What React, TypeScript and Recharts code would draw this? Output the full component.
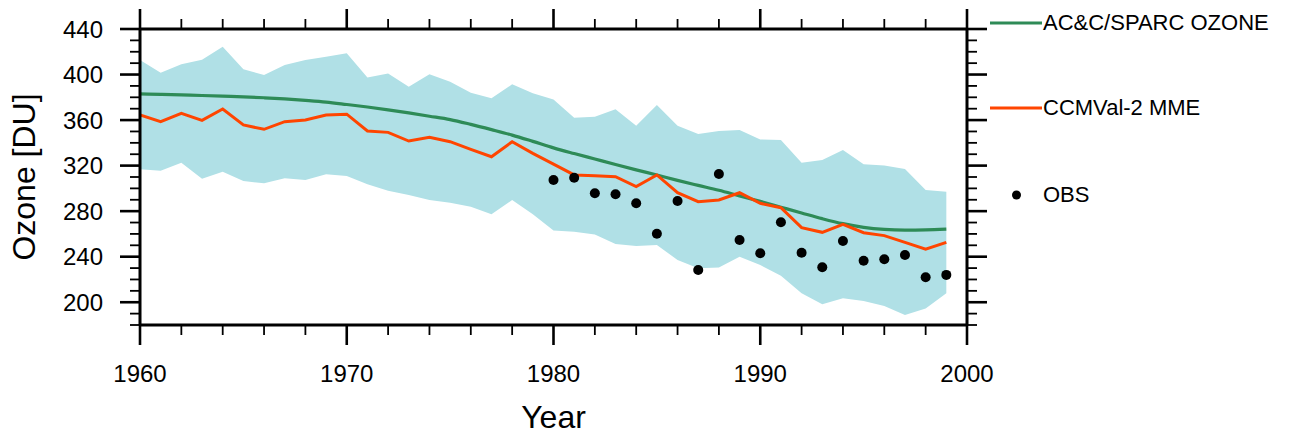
import React from 'react';
import { ComposedChart, Area, Line, Scatter, XAxis, YAxis, Legend, Label } from 'recharts';

const years = [
  1960, 1961, 1962, 1963, 1964, 1965, 1966, 1967, 1968, 1969,
  1970, 1971, 1972, 1973, 1974, 1975, 1976, 1977, 1978, 1979,
  1980, 1981, 1982, 1983, 1984, 1985, 1986, 1987, 1988, 1989,
  1990, 1991, 1992, 1993, 1994, 1995, 1996, 1997, 1998, 1999,
];

// AC&C/SPARC ozone (smooth)
const accOzone = [
  383, 382.6, 382.1, 381.6, 381, 380.4, 379.6, 378.6, 377.3, 375.8,
  373.7, 371.5, 369, 366.3, 363.4, 360.4, 356.2, 351.6, 346.8, 341.3,
  335.6, 330.6, 325.8, 321, 316.3, 311.7, 307, 302.6, 298.3, 293.4,
  288.6, 283.5, 278.4, 273.4, 269, 265.8, 264, 263.4, 263.6, 264.2,
];

// CCMVal-2 multi model mean
const mmeOzone = [
  364.5, 358.6, 365.9, 359.8, 369.7, 355.7, 351.9, 358.6, 360, 364.5,
  365.2, 350.4, 349.2, 341.6, 344.9, 341, 334.3, 327.8, 341, 330.8,
  321.3, 311.8, 311.2, 310.3, 301.5, 311.8, 296.2, 288.3, 289.8, 296.2,
  286.9, 283, 265.5, 261.4, 268.4, 261.1, 258.5, 252.6, 246.5, 252.6,
];

// model spread
const mmeUpper = [
  412.8, 401.6, 409, 413, 424.5, 404.6, 399.6, 408.4, 412.8, 415.7,
  418.6, 397.5, 401, 389.3, 400.2, 393.7, 384, 379.1, 391.4, 383.5,
  378, 362.1, 363, 369.5, 355, 373.2, 355, 347.8, 350.4, 351.3,
  343, 342.5, 322.6, 324.9, 333.7, 321.1, 320, 317, 298.6, 297.1,
];
const mmeLower = [
  316.7, 315.5, 322.6, 308.5, 314.7, 306.5, 304.5, 308.9, 307.4, 312.4,
  310.9, 303.6, 298, 294.2, 289.8, 287.4, 283.9, 277.2, 289.8, 277.2,
  263, 262, 259.6, 251.2, 249.4, 250.3, 237.1, 229.8, 230.4, 240,
  232.7, 223.3, 207.8, 198.2, 203.4, 201, 196.7, 188.8, 194.6, 207.8,
];

const obsYears = [
  1980, 1981, 1982, 1983, 1984, 1985, 1986, 1987, 1988, 1989,
  1990, 1991, 1992, 1993, 1994, 1995, 1996, 1997, 1998, 1999,
];
const obsOzone = [
  307.4, 309.4, 295.7, 294.8, 286.9, 260.2, 288.9, 228.3, 312.6, 254.7,
  243, 270.2, 243.5, 230.7, 253.8, 236.5, 237.7, 241.5, 221.9, 224,
];

const xMajor = [1960, 1970, 1980, 1990, 2000];
const xTicks = [
  1960, 1962, 1964, 1966, 1968, 1970, 1972, 1974, 1976, 1978, 1980,
  1982, 1984, 1986, 1988, 1990, 1992, 1994, 1996, 1998, 2000,
];
const yMajor = [200, 240, 280, 320, 360, 400, 440];
const yTicks = [
  180, 190, 200, 210, 220, 230, 240, 250, 260, 270, 280, 290, 300, 310,
  320, 330, 340, 350, 360, 370, 380, 390, 400, 410, 420, 430, 440,
];

const legendNames = ['AC&C/SPARC OZONE', 'CCMVal-2 MME', 'OBS'];

const FONT = '"Liberation Sans", Arial, Helvetica, sans-serif';
const GREEN = '#2e8b57';
const ORANGE = '#ff4500';
const BAND = '#b0e0e6';

const data = years.map((year, i) => ({
  year,
  acc: accOzone[i],
  mme: mmeOzone[i],
  range: [mmeLower[i], mmeUpper[i]],
}));
const obsData = obsYears.map((year, i) => ({ year, obs: obsOzone[i] }));

type Side = 'bottom' | 'top' | 'left' | 'right';

const AxisTick = (props: any) => {
  const { x, y, payload, side, major, showLabel } = props;
  const isMajor = major.includes(payload.value);
  const len = isMajor ? 20 : 10;
  const s: Side = side;
  const pos = {
    bottom: { x1: x, x2: x, y1: y, y2: y + len },
    top: { x1: x, x2: x, y1: y, y2: y - len },
    left: { x1: x, x2: x - len, y1: y, y2: y },
    right: { x1: x, x2: x + len, y1: y, y2: y },
  }[s];
  return (
    <g>
      <line {...pos} stroke="#000" strokeWidth={isMajor ? 2.6 : 1.8} />
      {showLabel && isMajor && s === 'bottom' && (
        <text x={x} y={y + 57} textAnchor="middle" fontSize={24} fontFamily={FONT} fill="#000">
          {payload.value}
        </text>
      )}
      {showLabel && isMajor && s === 'left' && (
        <text x={x - 37} y={y} textAnchor="end" dominantBaseline="central" fontSize={24} fontFamily={FONT} fill="#000">
          {payload.value}
        </text>
      )}
    </g>
  );
};

const renderLegend = () => {
  const rows = [23, 108, 195];
  return (
    <div style={{ position: 'relative', width: 299, height: 220, fontFamily: FONT }}>
      {legendNames.map((name, i) => (
        <div
          key={name}
          style={{
            position: 'absolute',
            left: 0,
            top: rows[i] - 14,
            height: 28,
            display: 'flex',
            alignItems: 'center',
            fontSize: 22,
            color: '#000',
            whiteSpace: 'nowrap',
          }}
        >
          <svg width={53} height={28} style={{ display: 'block' }}>
            {i < 2 ? (
              <line x1={0} x2={52} y1={14} y2={14} stroke={i === 0 ? GREEN : ORANGE} strokeWidth={3} />
            ) : (
              <circle cx={26.5} cy={14} r={4.5} fill="#000" />
            )}
          </svg>
          <span>{name}</span>
        </div>
      ))}
    </div>
  );
};

const ObsDot = (props: any) => <circle cx={props.cx} cy={props.cy} r={5} fill="#000" />;

const axisLine = { stroke: '#000', strokeWidth: 3 };

export default function App() {
  return (
    <div style={{ position: 'absolute', left: 0, top: 0, width: 1289, height: 437, background: '#fff', fontFamily: FONT }}>
      <ComposedChart
        width={1289}
        height={437}
        data={data}
        margin={{ top: 9, right: 302, bottom: 9, left: 20 }}
      >
        <XAxis
          dataKey="year"
          type="number"
          domain={[1960, 2000]}
          ticks={xTicks}
          interval={0}
          allowDataOverflow
          height={103}
          tickSize={0}
          tickMargin={0}
          tickLine={false}
          axisLine={axisLine}
          tick={(p: any) => <AxisTick {...p} side="bottom" major={xMajor} showLabel />}
        >
          <Label
            content={({ viewBox }: any) => (
              <text
                x={viewBox.x + viewBox.width / 2}
                y={viewBox.y + viewBox.height}
                textAnchor="middle"
                fontSize={32}
                fontFamily={FONT}
                fill="#000"
              >
                Year
              </text>
            )}
          />
        </XAxis>
        <XAxis
          xAxisId="top"
          dataKey="year"
          type="number"
          orientation="top"
          domain={[1960, 2000]}
          ticks={xTicks}
          interval={0}
          allowDataOverflow
          height={20}
          tickSize={0}
          tickMargin={0}
          tickLine={false}
          axisLine={axisLine}
          tick={(p: any) => <AxisTick {...p} side="top" major={xMajor} />}
        />
        <YAxis
          type="number"
          domain={[180, 440]}
          ticks={yTicks}
          interval={0}
          allowDataOverflow
          width={120}
          tickSize={0}
          tickMargin={0}
          tickLine={false}
          axisLine={axisLine}
          tick={(p: any) => <AxisTick {...p} side="left" major={yMajor} showLabel />}
        >
          <Label
            content={({ viewBox }: any) => {
              const cx = viewBox.x + 15;
              const cy = viewBox.y + viewBox.height / 2;
              return (
                <text
                  x={cx}
                  y={cy}
                  transform={`rotate(-90 ${cx} ${cy})`}
                  textAnchor="middle"
                  fontSize={32}
                  fontFamily={FONT}
                  fill="#000"
                >
                  Ozone [DU]
                </text>
              );
            }}
          />
        </YAxis>
        <YAxis
          yAxisId="right"
          orientation="right"
          type="number"
          domain={[180, 440]}
          ticks={yTicks}
          interval={0}
          allowDataOverflow
          width={20}
          tickSize={0}
          tickMargin={0}
          tickLine={false}
          axisLine={axisLine}
          tick={(p: any) => <AxisTick {...p} side="right" major={yMajor} />}
        />
        <Area
          dataKey="range"
          type="linear"
          fill={BAND}
          fillOpacity={1}
          stroke="none"
          activeDot={false}
          isAnimationActive={false}
          legendType="none"
        />
        <Line
          dataKey="acc"
          type="monotone"
          stroke={GREEN}
          strokeWidth={3.2}
          dot={false}
          activeDot={false}
          isAnimationActive={false}
        />
        <Line
          dataKey="mme"
          type="linear"
          stroke={ORANGE}
          strokeWidth={3}
          dot={false}
          activeDot={false}
          isAnimationActive={false}
        />
        <Scatter data={obsData} dataKey="obs" shape={ObsDot} isAnimationActive={false} />
        <Legend
          layout="horizontal"
          align="center"
          verticalAlign="middle"
          content={renderLegend}
          wrapperStyle={{ position: 'absolute', left: 990, top: 0, width: 299, height: 220 }}
        />
      </ComposedChart>
    </div>
  );
}
